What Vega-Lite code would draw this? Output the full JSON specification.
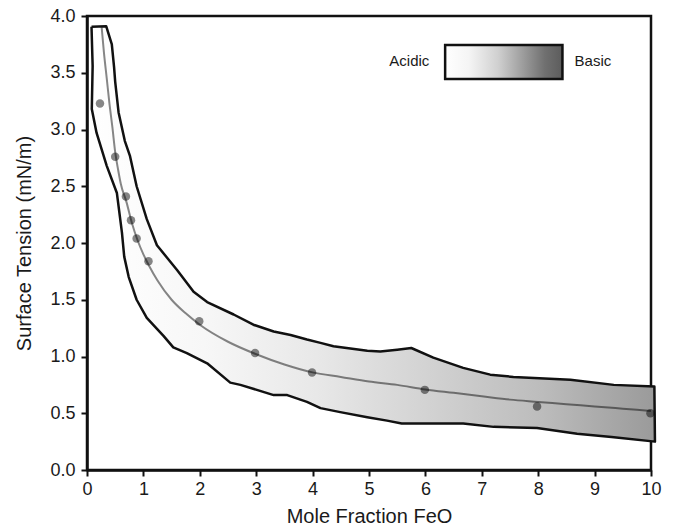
{
  "$schema": "https://vega.github.io/schema/vega-lite/v6.json",
  "width": 564,
  "height": 454,
  "autosize": {"type": "none"},
  "padding": {"left": 87, "top": 16, "right": 25, "bottom": 59},
  "background": "white",
  "config": {
    "view": {"stroke": "#111", "strokeWidth": 2.5},
    "font": "Liberation Sans",
    "axis": {
      "grid": false,
      "domainColor": "#111",
      "domainWidth": 2.5,
      "tickColor": "#111",
      "tickWidth": 2,
      "tickSize": 6,
      "labelFlush": false,
      "labelFont": "Liberation Sans",
      "labelFontSize": 18,
      "labelColor": "#1a1a1a",
      "titleFont": "Liberation Sans",
      "titleFontSize": 20,
      "titleFontWeight": "normal",
      "titleColor": "#1a1a1a"
    }
  },
  "datasets": {
    "band": [
      {"i": 1, "x": 0.08, "y": 3.905},
      {"i": 2, "x": 0.34, "y": 3.91},
      {"i": 3, "x": 0.44, "y": 3.75},
      {"i": 4, "x": 0.48, "y": 3.55},
      {"i": 5, "x": 0.5, "y": 3.42},
      {"i": 6, "x": 0.56, "y": 3.15},
      {"i": 7, "x": 0.67, "y": 2.9},
      {"i": 8, "x": 0.76, "y": 2.77},
      {"i": 9, "x": 0.88, "y": 2.5},
      {"i": 10, "x": 1.06, "y": 2.21},
      {"i": 11, "x": 1.24, "y": 1.98},
      {"i": 12, "x": 1.42, "y": 1.87},
      {"i": 13, "x": 1.6, "y": 1.76},
      {"i": 14, "x": 1.89, "y": 1.57},
      {"i": 15, "x": 2.13, "y": 1.48},
      {"i": 16, "x": 2.6, "y": 1.37},
      {"i": 17, "x": 2.95, "y": 1.28},
      {"i": 18, "x": 3.31, "y": 1.22},
      {"i": 19, "x": 3.61, "y": 1.19},
      {"i": 20, "x": 3.9, "y": 1.15},
      {"i": 21, "x": 4.14, "y": 1.12},
      {"i": 22, "x": 4.37, "y": 1.09},
      {"i": 23, "x": 4.67, "y": 1.07},
      {"i": 24, "x": 4.97, "y": 1.05},
      {"i": 25, "x": 5.2, "y": 1.045},
      {"i": 26, "x": 5.5, "y": 1.06},
      {"i": 27, "x": 5.75, "y": 1.075},
      {"i": 28, "x": 6.14, "y": 0.99},
      {"i": 29, "x": 6.67, "y": 0.9},
      {"i": 30, "x": 7.15, "y": 0.84},
      {"i": 31, "x": 7.56, "y": 0.82},
      {"i": 32, "x": 8.57, "y": 0.795},
      {"i": 33, "x": 9.34, "y": 0.75},
      {"i": 34, "x": 10.06, "y": 0.735},
      {"i": 35, "x": 10.07, "y": 0.25},
      {"i": 36, "x": 9.3, "y": 0.29},
      {"i": 37, "x": 8.69, "y": 0.32},
      {"i": 38, "x": 7.98, "y": 0.37},
      {"i": 39, "x": 7.21, "y": 0.38},
      {"i": 40, "x": 6.67, "y": 0.41},
      {"i": 41, "x": 5.58, "y": 0.41},
      {"i": 42, "x": 5.32, "y": 0.435},
      {"i": 43, "x": 4.97, "y": 0.465},
      {"i": 44, "x": 4.49, "y": 0.51},
      {"i": 45, "x": 4.14, "y": 0.545},
      {"i": 46, "x": 3.9, "y": 0.6},
      {"i": 47, "x": 3.55, "y": 0.66},
      {"i": 48, "x": 3.31, "y": 0.66},
      {"i": 49, "x": 2.72, "y": 0.75},
      {"i": 50, "x": 2.54, "y": 0.77},
      {"i": 51, "x": 2.13, "y": 0.94},
      {"i": 52, "x": 1.77, "y": 1.03},
      {"i": 53, "x": 1.53, "y": 1.08},
      {"i": 54, "x": 1.36, "y": 1.18},
      {"i": 55, "x": 1.06, "y": 1.34},
      {"i": 56, "x": 0.88, "y": 1.5},
      {"i": 57, "x": 0.74, "y": 1.7},
      {"i": 58, "x": 0.66, "y": 1.88},
      {"i": 59, "x": 0.62, "y": 2.09},
      {"i": 60, "x": 0.53, "y": 2.44},
      {"i": 61, "x": 0.35, "y": 2.68},
      {"i": 62, "x": 0.17, "y": 2.97},
      {"i": 63, "x": 0.085, "y": 3.18},
      {"i": 64, "x": 0.1, "y": 3.56},
      {"i": 65, "x": 0.08, "y": 3.905}
    ],
    "fit": [
      {"x": 0.26, "y": 3.9},
      {"x": 0.3, "y": 3.68},
      {"x": 0.35, "y": 3.45},
      {"x": 0.4, "y": 3.22},
      {"x": 0.45, "y": 3.02},
      {"x": 0.5, "y": 2.8},
      {"x": 0.55, "y": 2.65},
      {"x": 0.6, "y": 2.52},
      {"x": 0.7, "y": 2.36},
      {"x": 0.8, "y": 2.17},
      {"x": 0.9, "y": 2.02},
      {"x": 1.0, "y": 1.9},
      {"x": 1.1, "y": 1.8},
      {"x": 1.25, "y": 1.67},
      {"x": 1.5, "y": 1.5},
      {"x": 1.75, "y": 1.38},
      {"x": 2.0, "y": 1.28},
      {"x": 2.5, "y": 1.13},
      {"x": 3.0, "y": 1.02},
      {"x": 3.5, "y": 0.93},
      {"x": 4.0, "y": 0.86},
      {"x": 4.5, "y": 0.82},
      {"x": 5.0, "y": 0.78},
      {"x": 5.5, "y": 0.75},
      {"x": 6.0, "y": 0.71},
      {"x": 6.5, "y": 0.68},
      {"x": 7.0, "y": 0.65},
      {"x": 7.5, "y": 0.62},
      {"x": 8.0, "y": 0.6},
      {"x": 8.5, "y": 0.58},
      {"x": 9.0, "y": 0.56},
      {"x": 9.5, "y": 0.54},
      {"x": 10.0, "y": 0.52}
    ],
    "pts": [
      {"x": 0.23, "y": 3.23},
      {"x": 0.5, "y": 2.76},
      {"x": 0.69, "y": 2.41},
      {"x": 0.78, "y": 2.2},
      {"x": 0.88, "y": 2.04},
      {"x": 1.09, "y": 1.84},
      {"x": 1.99, "y": 1.31},
      {"x": 2.98, "y": 1.03},
      {"x": 3.99, "y": 0.86},
      {"x": 5.99, "y": 0.706},
      {"x": 7.98, "y": 0.56},
      {"x": 9.99, "y": 0.5}
    ],
    "legendbox": [
      {"x": 6.35, "x2": 8.43, "y": 3.745, "y2": 3.445}
    ],
    "legendtext": [
      {"x": 6.07, "y": 3.6, "label": "Acidic", "side": "left"},
      {"x": 8.645, "y": 3.6, "label": "Basic", "side": "right"}
    ]
  },
  "layer": [
    {
      "data": {"name": "band"},
      "mark": {
        "type": "line",
        "stroke": "#111",
        "strokeWidth": 2.5,
        "strokeJoin": "round",
        "fill": {
          "gradient": "linear",
          "x1": 0, "y1": 0, "x2": 1, "y2": 0,
          "stops": [
            {"offset": 0, "color": "#ffffff"},
            {"offset": 0.2, "color": "#f7f7f7"},
            {"offset": 0.4, "color": "#e8e8e8"},
            {"offset": 0.6, "color": "#d2d2d2"},
            {"offset": 0.8, "color": "#bcbcbc"},
            {"offset": 1, "color": "#9a9a9a"}
          ]
        }
      },
      "encoding": {
        "x": {"field": "x", "type": "quantitative", "scale": {"domain": [0, 10], "nice": false},
              "axis": {"values": [0,1,2,3,4,5,6,7,8,9,10], "format": "d", "title": "Mole Fraction FeO", "labelPadding": 4, "titlePadding": 8}},
        "y": {"field": "y", "type": "quantitative", "scale": {"domain": [0, 4], "nice": false},
              "axis": {"values": [0,0.5,1,1.5,2,2.5,3,3.5,4], "format": ".1f", "title": "Surface Tension (mN/m)", "labelPadding": 6, "titlePadding": 15}},
        "order": {"field": "i", "type": "quantitative"}
      }
    },
    {
      "data": {"name": "fit"},
      "mark": {"type": "line", "color": "#000", "opacity": 0.47, "strokeWidth": 2, "interpolate": "monotone"},
      "encoding": {
        "x": {"field": "x", "type": "quantitative"},
        "y": {"field": "y", "type": "quantitative"}
      }
    },
    {
      "data": {"name": "pts"},
      "mark": {"type": "circle", "color": "#000", "opacity": 0.47, "size": 72},
      "encoding": {
        "x": {"field": "x", "type": "quantitative"},
        "y": {"field": "y", "type": "quantitative"}
      }
    },
    {
      "data": {"name": "legendbox"},
      "mark": {
        "type": "rect",
        "stroke": "#111",
        "strokeWidth": 2.5,
        "fill": {
          "gradient": "linear",
          "x1": 0, "y1": 0, "x2": 1, "y2": 0,
          "stops": [
            {"offset": 0, "color": "#ffffff"},
            {"offset": 0.2, "color": "#f5f5f5"},
            {"offset": 0.45, "color": "#d0d0d0"},
            {"offset": 0.65, "color": "#a0a0a0"},
            {"offset": 0.85, "color": "#707070"},
            {"offset": 1, "color": "#5c5c5c"}
          ]
        }
      },
      "encoding": {
        "x": {"field": "x", "type": "quantitative"},
        "x2": {"field": "x2"},
        "y": {"field": "y", "type": "quantitative"},
        "y2": {"field": "y2"}
      }
    },
    {
      "data": {"name": "legendtext"},
      "transform": [{"filter": "datum.side == 'left'"}],
      "mark": {"type": "text", "align": "right", "baseline": "middle", "fontSize": 15, "color": "#1a1a1a", "font": "Liberation Sans"},
      "encoding": {
        "x": {"field": "x", "type": "quantitative"},
        "y": {"field": "y", "type": "quantitative"},
        "text": {"field": "label"}
      }
    },
    {
      "data": {"name": "legendtext"},
      "transform": [{"filter": "datum.side == 'right'"}],
      "mark": {"type": "text", "align": "left", "baseline": "middle", "fontSize": 15, "color": "#1a1a1a", "font": "Liberation Sans"},
      "encoding": {
        "x": {"field": "x", "type": "quantitative"},
        "y": {"field": "y", "type": "quantitative"},
        "text": {"field": "label"}
      }
    }
  ]
}
